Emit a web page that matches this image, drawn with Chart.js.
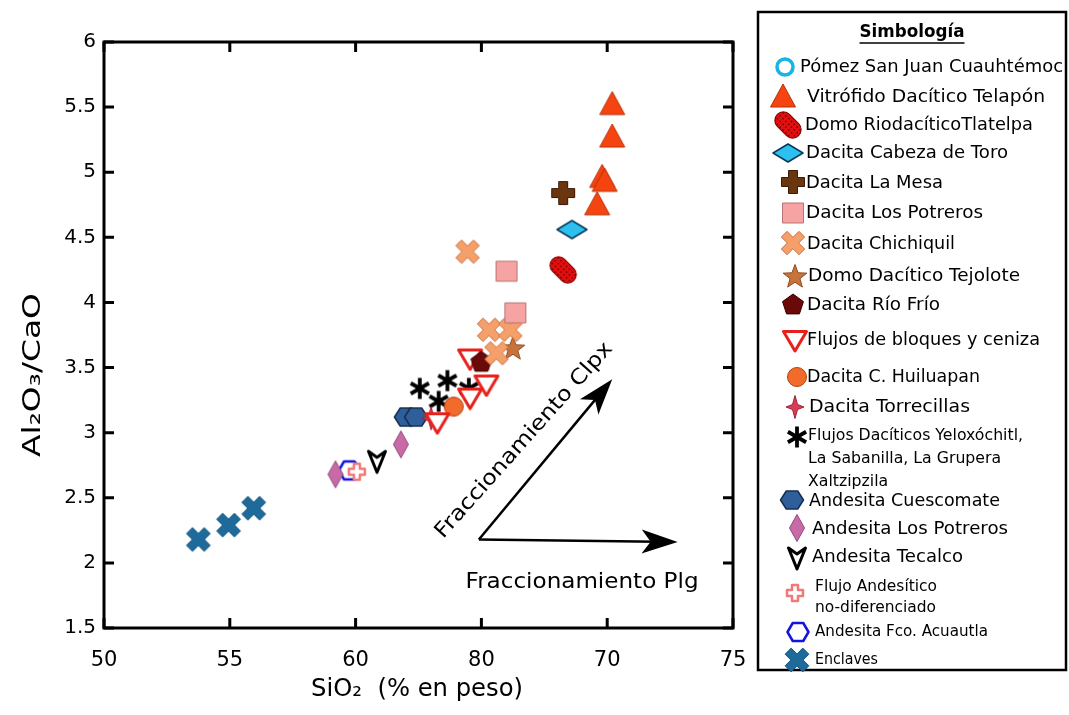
<!DOCTYPE html>
<html><head><meta charset="utf-8">
<script src="https://cdn.jsdelivr.net/npm/chart.js@4.4.0/dist/chart.umd.min.js"></script>
<style>html,body{margin:0;padding:0;background:#fff;}#wrap{width:1069px;height:715px;}</style>
</head><body><div id="wrap"><canvas id="c" width="1069" height="715"></canvas></div>
<script>
// ---------- DATA ----------
const xTickValues = [50, 55, 60, 65, 70, 75];
const xTickLabels = ['50', '55', '60', '80', '70', '75'];
const yTickValues = [1.5, 2, 2.5, 3, 3.5, 4, 4.5, 5, 5.5, 6];
const yTickLabels = ['1.5', '2', '2.5', '3', '3.5', '4', '4.5', '5', '5.5', '6'];
const xTitle = 'SiO\u2082  (% en peso)';
const yTitle = 'Al\u2082O\u2083/CaO';
const legendTitle = 'Simbología';
const clpxLabel = 'Fraccionamiento Clpx';
const plgLabel = 'Fraccionamiento Plg';

const seriesNames = [
  'Pómez San Juan Cuauhtémoc',
  'Vitrófido Dacítico Telapón',
  'Domo RiodacíticoTlatelpa',
  'Dacita Cabeza de Toro',
  'Dacita La Mesa',
  'Dacita Los Potreros',
  'Dacita Chichiquil',
  'Domo Dacítico Tejolote',
  'Dacita Río Frío',
  'Flujos de bloques y ceniza',
  'Dacita C. Huiluapan',
  'Dacita Torrecillas',
  'Flujos Dacíticos Yeloxóchitl,\nLa Sabanilla, La Grupera\nXaltzipzila',
  'Andesita Cuescomate',
  'Andesita Los Potreros',
  'Andesita Tecalco',
  'Flujo Andesítico\nno-diferenciado',
  'Andesita Fco. Acuautla',
  'Enclaves'
];

const pomezSiO2 = [];               const pomezRatio = [];
const telaponSiO2 = [70.2, 70.2, 69.8, 69.9, 69.6];
const telaponRatio = [5.52, 5.27, 4.96, 4.93, 4.75];
const tlatelpaSiO2 = [68.25];        const tlatelpaRatio = [4.25];
const cabezaSiO2 = [68.6];           const cabezaRatio = [4.56];
const laMesaSiO2 = [68.25];          const laMesaRatio = [4.84];
const dacPotrerosSiO2 = [66.0, 66.35]; const dacPotrerosRatio = [4.24, 3.92];
const chichiquilSiO2 = [64.45, 65.3, 66.15, 65.6];
const chichiquilRatio = [4.39, 3.79, 3.79, 3.61];
const tejoloteSiO2 = [66.25];        const tejoloteRatio = [3.65];
const rioFrioSiO2 = [65.0];          const rioFrioRatio = [3.54];
const bloquesSiO2 = [64.55, 65.2, 64.55, 63.25];
const bloquesRatio = [3.57, 3.37, 3.27, 3.08];
const huiluapanSiO2 = [63.9];        const huiluapanRatio = [3.20];
const torrecillasSiO2 = [63.0];      const torrecillasRatio = [3.11];
const yeloxSiO2 = [62.55, 63.3, 63.65, 64.5];
const yeloxRatio = [3.34, 3.24, 3.40, 3.34];
const cuescomateSiO2 = [62.0, 62.4]; const cuescomateRatio = [3.12, 3.12];
const andPotrerosSiO2 = [59.2, 61.8]; const andPotrerosRatio = [2.68, 2.91];
const tecalcoSiO2 = [60.85];         const tecalcoRatio = [2.78];
const flujoAndSiO2 = [60.05];        const flujoAndRatio = [2.70];
const acuautlaSiO2 = [59.75];        const acuautlaRatio = [2.71];
const enclavesSiO2 = [53.75, 54.95, 55.95];
const enclavesRatio = [2.18, 2.29, 2.42];

const seriesX = [pomezSiO2, telaponSiO2, tlatelpaSiO2, cabezaSiO2, laMesaSiO2, dacPotrerosSiO2,
  chichiquilSiO2, tejoloteSiO2, rioFrioSiO2, bloquesSiO2, huiluapanSiO2, torrecillasSiO2, yeloxSiO2,
  cuescomateSiO2, andPotrerosSiO2, tecalcoSiO2, flujoAndSiO2, acuautlaSiO2, enclavesSiO2];
const seriesY = [pomezRatio, telaponRatio, tlatelpaRatio, cabezaRatio, laMesaRatio, dacPotrerosRatio,
  chichiquilRatio, tejoloteRatio, rioFrioRatio, bloquesRatio, huiluapanRatio, torrecillasRatio, yeloxRatio,
  cuescomateRatio, andPotrerosRatio, tecalcoRatio, flujoAndRatio, acuautlaRatio, enclavesRatio];

// annotation arrows (data coords): origin, Clpx end, Plg end
const arrowOrigin = [64.9, 2.18];
const clpxEnd = [70.2, 3.41];
const plgEnd = [72.8, 2.16];

// ---------- MARKERS ----------
function mk(w, h, fn) { const c = document.createElement('canvas'); c.width = w; c.height = h; const g = c.getContext('2d'); g.translate(w / 2, h / 2); g.lineJoin = 'round'; fn(g); return c; }
function poly(g, pts) { g.beginPath(); pts.forEach((p, i) => i ? g.lineTo(p[0], p[1]) : g.moveTo(p[0], p[1])); g.closePath(); }
function fs(g, fill, stroke, lw) { if (fill) { g.fillStyle = fill; g.fill(); } if (stroke) { g.lineWidth = lw; g.strokeStyle = stroke; g.stroke(); } }
function plusPts(s, a) { return [[-a,-s],[a,-s],[a,-a],[s,-a],[s,a],[a,a],[a,s],[-a,s],[-a,a],[-s,a],[-s,-a],[-a,-a]]; }
function rot(pts, t) { return pts.map(([x, y]) => [x * Math.cos(t) - y * Math.sin(t), x * Math.sin(t) + y * Math.cos(t)]); }
function star(n, ro, ri) { const p = []; for (let i = 0; i < 2 * n; i++) { const a = -Math.PI / 2 + i * Math.PI / n; const r = i % 2 ? ri : ro; p.push([r * Math.cos(a), r * Math.sin(a)]); } return p; }
function regular(n, r) { const p = []; for (let i = 0; i < n; i++) { const a = -Math.PI / 2 + i * 2 * Math.PI / n; p.push([r * Math.cos(a), r * Math.sin(a)]); } return p; }
const hexPts = (w, h) => [[-w, 0], [-w / 2, -h], [w / 2, -h], [w, 0], [w / 2, h], [-w / 2, h]];

const markers = [
  mk(24, 24, g => { g.beginPath(); g.arc(0, 0, 8, 0, Math.PI * 2); fs(g, '#fff', '#19b3e6', 3.5); }),
  mk(30, 30, g => { poly(g, [[0, -13], [12.5, 10], [-12.5, 10]]); fs(g, '#f5440f', '#b8300a', 1); }),
  mk(34, 34, g => { g.rotate(Math.PI / 4); g.beginPath(); g.roundRect(-15, -8.5, 30, 17, 8.5); fs(g, '#e30f0f', '#8a0000', 1.2);
    g.save(); g.clip(); g.fillStyle = '#7a0000'; for (let x = -16; x <= 16; x += 4) for (let y = -9; y <= 9; y += 4) { g.beginPath(); g.arc(x, y, 0.9, 0, Math.PI * 2); g.fill(); } g.restore(); }),
  mk(34, 22, g => { poly(g, [[-15, 0], [0, -9], [15, 0], [0, 9]]); fs(g, '#2cc0f0', '#0a3a5a', 1.5); }),
  mk(26, 26, g => { poly(g, plusPts(11.5, 4.5)); fs(g, '#6b3510', '#3a1a05', 1); }),
  mk(24, 24, g => { poly(g, [[-10.5, -10], [10.5, -10], [10.5, 10], [-10.5, 10]]); fs(g, '#f6a3a3', '#b87474', 1); }),
  mk(28, 28, g => { poly(g, rot(plusPts(12.5, 4), Math.PI / 4)); fs(g, '#f5a06a', '#c87040', 1); }),
  mk(28, 28, g => { g.translate(0, 1); poly(g, star(5, 12.5, 5.2)); fs(g, '#c8733a', '#8a4a20', 1); }),
  mk(26, 26, g => { poly(g, regular(5, 11)); fs(g, '#6b0808', '#3a0000', 1); }),
  mk(28, 26, g => { poly(g, [[-11.5, -8.5], [11.5, -8.5], [0, 11]]); fs(g, '#fff', '#e8201c', 3); }),
  mk(24, 24, g => { g.beginPath(); g.arc(0, 0, 9.5, 0, Math.PI * 2); fs(g, '#f26b2b', '#b04010', 1); }),
  mk(24, 26, g => { poly(g, [[0, -11.5], [2.5, -2.5], [9, 0], [2.5, 2.5], [0, 11.5], [-2.5, 2.5], [-9, 0], [-2.5, -2.5]]); fs(g, '#d93c55', '#a02035', 1); }),
  mk(26, 26, g => { g.strokeStyle = '#000'; g.lineWidth = 3.8; g.lineCap = 'butt'; for (let k = 0; k < 3; k++) { const a = Math.PI / 2 + k * Math.PI / 3; g.beginPath(); g.moveTo(10.5 * Math.cos(a), 10.5 * Math.sin(a)); g.lineTo(-10.5 * Math.cos(a), -10.5 * Math.sin(a)); g.stroke(); } }),
  mk(28, 24, g => { poly(g, hexPts(11.5, 9)); fs(g, '#2f5f9a', '#15304f', 1.5); }),
  mk(20, 32, g => { poly(g, [[0, -13.5], [7.5, 0], [0, 13.5], [-7.5, 0]]); fs(g, '#c86aa5', '#8e4c7e', 1); }),
  mk(24, 28, g => { poly(g, [[-8.5, -10], [0, -4], [8.5, -10], [0, 11]]); fs(g, '#fff', '#000', 3); }),
  mk(22, 22, g => { poly(g, plusPts(8, 3)); fs(g, '#fff', '#f07a7a', 2.5); }),
  mk(26, 24, g => { poly(g, hexPts(10.5, 9)); fs(g, '#fff', '#1414dc', 2.5); }),
  mk(28, 28, g => { poly(g, rot(plusPts(12.5, 4.3), Math.PI / 4)); fs(g, '#1d6a9b', '#16557d', 1); })
];

// ---------- LAYOUT (legend) ----------
const legendBox = { l: 758, t: 12, r: 1066, b: 670 };
const legendRows = [
  { ix: 785, iy: 67, tx: 800, tw: 263, ty: [67], fz: 18 },
  { ix: 783, iy: 97, tx: 807, tw: 238, ty: [97], fz: 18 },
  { ix: 788, iy: 125, tx: 805, tw: 228, ty: [125], fz: 18 },
  { ix: 788, iy: 153, tx: 806, tw: 202, ty: [153], fz: 18 },
  { ix: 793, iy: 182, tx: 806, tw: 137, ty: [183], fz: 18 },
  { ix: 793, iy: 213, tx: 806, tw: 177, ty: [213], fz: 18 },
  { ix: 793, iy: 243, tx: 807, tw: 148, ty: [244], fz: 18 },
  { ix: 795, iy: 276, tx: 808, tw: 212, ty: [276], fz: 18 },
  { ix: 793, iy: 305, tx: 807, tw: 133, ty: [305], fz: 18 },
  { ix: 795, iy: 340, tx: 807, tw: 233, ty: [340], fz: 18 },
  { ix: 797, iy: 377, tx: 807, tw: 173, ty: [377], fz: 18 },
  { ix: 795, iy: 407, tx: 809, tw: 161, ty: [407], fz: 18 },
  { ix: 797, iy: 437, tx: 808, tw: 215, ty: [436, 459, 482], fz: 15 },
  { ix: 792, iy: 500, tx: 809, tw: 191, ty: [501], fz: 18 },
  { ix: 797, iy: 528, tx: 812, tw: 196, ty: [529], fz: 18 },
  { ix: 797, iy: 558, tx: 812, tw: 151, ty: [557], fz: 18 },
  { ix: 795, iy: 593, tx: 815, tw: 122, ty: [587, 608], fz: 15 },
  { ix: 798, iy: 632, tx: 815, tw: 173, ty: [632], fz: 16 },
  { ix: 797, iy: 660, tx: 815, tw: 63, ty: [660], fz: 16 }
];
const FONT = 'DejaVu Sans';

// draws text at a given size, stretched horizontally to a target width
function scaledText(ctx, text, x, y, size, target, weight, align) {
  ctx.font = (weight ? weight + ' ' : '') + size + 'px "' + FONT + '"';
  const w = ctx.measureText(text).width;
  const sx = Math.max(0.72, Math.min(1.35, target / w));
  ctx.save(); ctx.translate(x, y); ctx.scale(sx, 1);
  ctx.textAlign = align || 'left'; ctx.fillText(text, 0, 0); ctx.restore();
  return w * sx;
}

const drawPlugin = {
  id: 'decor',
  beforeDraw(chart) {
    const ctx = chart.ctx; ctx.save(); ctx.fillStyle = '#fff'; ctx.fillRect(0, 0, chart.width, chart.height); ctx.restore();
  },
  beforeDatasetsDraw(chart) {
    const ctx = chart.ctx, a = chart.chartArea, xs = chart.scales.x, ys = chart.scales.y;
    ctx.save();
    ctx.strokeStyle = '#000'; ctx.lineWidth = 3; ctx.lineCap = 'butt';
    ctx.strokeRect(a.left, a.top, a.right - a.left, a.bottom - a.top);
    const tl = 10;
    ctx.beginPath();
    xTickValues.forEach(v => { const p = xs.getPixelForValue(v); ctx.moveTo(p, a.bottom); ctx.lineTo(p, a.bottom - tl); ctx.moveTo(p, a.top); ctx.lineTo(p, a.top + tl); });
    yTickValues.forEach(v => { const p = ys.getPixelForValue(v); ctx.moveTo(a.left, p); ctx.lineTo(a.left + tl, p); ctx.moveTo(a.right, p); ctx.lineTo(a.right - tl, p); });
    ctx.stroke();

    function arrow(from, to) {
      const x0 = xs.getPixelForValue(from[0]), y0 = ys.getPixelForValue(from[1]);
      const x1 = xs.getPixelForValue(to[0]), y1 = ys.getPixelForValue(to[1]);
      const ang = Math.atan2(y1 - y0, x1 - x0), len = Math.hypot(x1 - x0, y1 - y0);
      ctx.save(); ctx.translate(x0, y0); ctx.rotate(ang);
      ctx.lineWidth = 2.5; ctx.beginPath(); ctx.moveTo(0, 0); ctx.lineTo(len - 20, 0); ctx.stroke();
      ctx.beginPath(); ctx.moveTo(len, 0); ctx.lineTo(len - 36, -12); ctx.lineTo(len - 27, 0); ctx.lineTo(len - 36, 12); ctx.closePath();
      ctx.fillStyle = '#000'; ctx.fill();
      ctx.restore();
    }
    arrow(arrowOrigin, clpxEnd);
    arrow(arrowOrigin, plgEnd);

    ctx.fillStyle = '#000'; ctx.textBaseline = 'middle';
    ctx.save(); ctx.translate(xs.getPixelForValue(66.7), ys.getPixelForValue(2.94)); ctx.rotate(-48.2 * Math.PI / 180);
    scaledText(ctx, clpxLabel, 0, 0, 21, 255, '', 'center'); ctx.restore();
    scaledText(ctx, plgLabel, xs.getPixelForValue(69.0), ys.getPixelForValue(1.85), 21, 233, '', 'center');
    ctx.restore();
  },
  afterDraw(chart) {
    const ctx = chart.ctx;
    ctx.save();
    ctx.fillStyle = '#000'; ctx.textBaseline = 'middle';
    scaledText(ctx, xTitle, 417, 690, 24, 212, '', 'center');
    ctx.save(); ctx.translate(33, 375); ctx.rotate(-Math.PI / 2);
    scaledText(ctx, yTitle, 0, 0, 25, 164, '', 'center'); ctx.restore();

    ctx.strokeStyle = '#000'; ctx.lineWidth = 2.5;
    ctx.strokeRect(legendBox.l, legendBox.t, legendBox.r - legendBox.l, legendBox.b - legendBox.t);
    const tw = scaledText(ctx, legendTitle, 912, 32, 18, 105, 'bold', 'center');
    ctx.lineWidth = 1.5; ctx.beginPath(); ctx.moveTo(912 - tw / 2, 43); ctx.lineTo(912 + tw / 2, 43); ctx.stroke();

    legendRows.forEach((row, i) => {
      const m = markers[i];
      ctx.drawImage(m, row.ix - m.width / 2, row.iy - m.height / 2);
      const lines = seriesNames[i].split('\n');
      ctx.font = row.fz + 'px "' + FONT + '"';
      const sx = Math.max(0.72, Math.min(1.35, row.tw / ctx.measureText(lines[0]).width));
      lines.forEach((ln, k) => {
        ctx.save(); ctx.translate(row.tx, row.ty[k]); ctx.scale(sx, 1); ctx.textAlign = 'left'; ctx.fillText(ln, 0, 0); ctx.restore();
      });
    });
    ctx.restore();
  }
};

const datasets = seriesNames.map((name, i) => ({
  label: name.replace(/\n/g, ' '),
  data: seriesX[i].map((x, j) => ({ x: x, y: seriesY[i][j] })),
  pointStyle: markers[i],
  pointRadius: 10,
  pointHoverRadius: 10,
  showLine: false
}));

new Chart(document.getElementById('c'), {
  type: 'scatter',
  data: { datasets: datasets },
  options: {
    responsive: false,
    animation: false,
    events: [],
    layout: { padding: { top: 42, right: 336, bottom: 0, left: 0 } },
    plugins: { legend: { display: false }, tooltip: { enabled: false }, title: { display: false } },
    scales: {
      x: {
        type: 'linear', min: 50, max: 75,
        afterBuildTicks: s => { s.ticks = xTickValues.map(v => ({ value: v })); },
        afterFit: s => { s.height = 87; s.paddingLeft = 0; s.paddingRight = 0; },
        ticks: { callback: (v, i) => xTickLabels[i], font: { family: FONT, size: 21 }, color: '#000', padding: 20, maxRotation: 0, autoSkip: false },
        grid: { display: false, drawTicks: false },
        border: { display: false }
      },
      y: {
        type: 'linear', min: 1.5, max: 6,
        afterBuildTicks: s => { s.ticks = yTickValues.map(v => ({ value: v })); },
        afterFit: s => { s.width = 104; s.paddingTop = 0; s.paddingBottom = 0; },
        ticks: { callback: (v, i) => yTickLabels[i], font: { family: FONT, size: 20 }, color: '#000', padding: 8, autoSkip: false },
        grid: { display: false, drawTicks: false },
        border: { display: false }
      }
    }
  },
  plugins: [drawPlugin]
});
</script></body></html>
